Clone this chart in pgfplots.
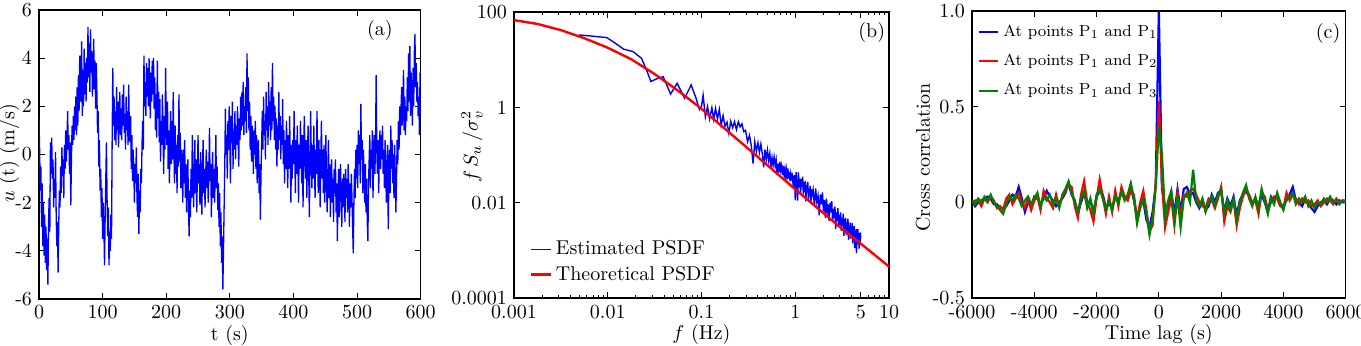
\documentclass[border=0pt]{standalone}
\usepackage{pgfplots}
\pgfplotsset{compat=1.18}
\definecolor{mblue}{rgb}{0,0,1}
\definecolor{mred}{rgb}{1,0,0}
\definecolor{mgreen}{rgb}{0,0.5,0}
\pgfplotsset{
  panel/.style={
    scale only axis, anchor=south west,
    axis line style={line width=0.8pt},
    tick align=inside, major tick length=3pt, minor tick length=1.6pt,
    every tick/.style={black, line width=0.5pt},
    every axis x label/.style={at={(rel axis cs:0.5,0)}, yshift=-18pt, anchor=center},
    tick label style={font=\normalsize},
  }
}
\begin{document}
\begin{tikzpicture}
% ---------------- (a) wind speed time history ----------------
\begin{axis}[panel, at={(19.5pt,23pt)}, width=190.85pt, height=144.5pt,
  xmin=0, xmax=600, ymin=-6, ymax=6,
  xtick={0,100,200,300,400,500,600},
  ytick={-6,-4,-2,0,2,4,6}, yticklabels={-6,-4,-2,0,2,4,6},
  xlabel={t (s)}, ylabel={$u$ (t) (m/s)},
  every axis y label/.style={at={(rel axis cs:0,0.505)}, xshift=-14.8pt, rotate=90, anchor=center}]
\addplot[mblue, line width=0.65pt] coordinates {
(0,1.5)(1,0.2)(2,-1.5)(3,-0.5)(4,-3.0)(5,-1.2)(6,-3.8)(7,-2.0)(8,-4.2)(9,-2.5)
(10,-4.5)(11,-3.0)(12,-4.8)(13,-3.5)(14,-5.4)(15,-2.8)(16,-1.8)(17,-3.2)(18,0.5)(19,-0.8)
(20,0.7)(21,-1.0)(22,-0.2)(23,-2.2)(24,-1.0)(25,-1.8)(26,0.1)(27,-2.5)(28,-3.8)(29,-2.8)
(30,-4.9)(31,-3.0)(32,-1.5)(33,-2.2)(34,-0.5)(35,-1.6)(36,0.3)(37,-0.9)(38,-0.2)(39,-1.8)
(40,0.4)(41,-0.6)(42,1.0)(43,-0.3)(44,0.6)(45,1.8)(46,0.2)(47,0.8)(48,-0.8)(49,0.5)
(50,-2.1)(51,-0.2)(52,1.2)(53,0.4)(54,1.6)(55,0.6)(56,2.0)(57,1.0)(58,2.4)(59,0.8)
(60,2.8)(61,1.2)(62,3.3)(63,1.8)(64,4.1)(65,2.2)(66,3.0)(67,4.7)(68,1.6)(69,3.5)
(70,2.0)(71,4.4)(72,2.5)(73,3.8)(74,2.2)(75,4.0)(76,3.0)(77,5.3)(78,3.2)(79,4.6)
(80,2.6)(81,5.2)(82,3.4)(83,4.3)(84,2.4)(85,3.6)(86,4.8)(87,2.7)(88,3.9)(89,1.9)
(90,3.8)(91,2.6)(92,0.9)(93,1.8)(94,-0.5)(95,0.6)(96,-1.5)(97,-0.6)(98,-2.6)(99,-1.4)
(100,-3.5)(101,-2.0)(102,-3.0)(103,-4.6)(104,-2.6)(105,-1.0)(106,0.5)(107,-1.8)(108,-3.4)(109,-2.2)
(110,-4.6)(111,-3.2)(112,-4.0)(113,-2.5)(114,-3.5)(115,0.6)(116,3.6)(117,1.2)(118,2.4)(119,0.6)
(120,1.8)(121,0.4)(122,2.8)(123,1.0)(124,2.2)(125,0.3)(126,1.6)(127,2.6)(128,0.8)(129,1.9)
(130,0.6)(131,2.5)(132,1.2)(133,2.9)(134,0.9)(135,1.7)(136,0.2)(137,2.4)(138,1.0)(139,1.8)
(140,0.4)(141,2.9)(142,1.1)(143,0.5)(144,1.6)(145,-0.6)(146,0.8)(147,-1.1)(148,0.2)(149,-0.5)
(150,-2.0)(151,-0.4)(152,-1.2)(153,0.3)(154,-1.8)(155,-2.6)(156,-0.8)(157,-3.3)(158,-1.5)(159,-2.4)
(160,-0.6)(161,-1.2)(162,0.5)(163,1.4)(164,0.2)(165,4.1)(166,2.0)(167,3.0)(168,1.6)(169,3.8)
(170,2.4)(171,3.6)(172,2.0)(173,4.0)(174,2.8)(175,1.5)(176,3.4)(177,2.2)(178,3.9)(179,2.5)
(180,4.0)(181,1.9)(182,3.2)(183,1.0)(184,2.5)(185,0.7)(186,3.9)(187,1.5)(188,2.6)(189,0.5)
(190,2.3)(191,-0.3)(192,1.4)(193,0.4)(194,2.5)(195,0.8)(196,-0.8)(197,1.6)(198,0.2)(199,3.6)
(200,1.2)(201,0.4)(202,2.2)(203,-0.6)(204,1.0)(205,-1.2)(206,0.6)(207,1.8)(208,-0.4)(209,1.4)
(210,-0.2)(211,2.6)(212,0.3)(213,-1.2)(214,1.2)(215,-0.8)(216,0.4)(217,-1.6)(218,0.8)(219,-0.5)
(220,2.5)(221,-0.3)(222,0.9)(223,-1.4)(224,0.2)(225,-0.8)(226,-2.0)(227,0.2)(228,-1.2)(229,0.6)
(230,-1.8)(231,-0.4)(232,-2.4)(233,-1.0)(234,-0.2)(235,-2.2)(236,-3.4)(237,-1.5)(238,-2.6)(239,-0.6)
(240,-1.8)(241,0.8)(242,-0.6)(243,-2.2)(244,-0.9)(245,0.6)(246,-1.6)(247,-0.2)(248,-2.4)(249,-0.8)
(250,0.8)(251,-1.2)(252,-0.4)(253,-2.1)(254,0.1)(255,-1.0)(256,-2.5)(257,-0.5)(258,0.6)(259,-1.6)
(260,-0.6)(261,-2.2)(262,-0.9)(263,0.2)(264,-1.4)(265,-0.3)(266,-2.0)(267,-0.8)(268,1.1)(269,-1.1)
(270,-0.4)(271,-2.6)(272,-1.0)(273,0.1)(274,-1.8)(275,-0.6)(276,-2.0)(277,-0.9)(278,0.8)(279,-1.4)
(280,-0.5)(281,-2.3)(282,-1.2)(283,-3.0)(284,-1.6)(285,-3.8)(286,-2.4)(287,-4.5)(288,-3.4)(289,-5.6)
(290,-4.0)(291,-2.2)(292,-0.5)(293,1.9)(294,0.0)(295,0.8)(296,-1.0)(297,1.4)(298,0.2)(299,2.0)
(300,0.4)(301,-1.2)(302,1.6)(303,0.5)(304,2.2)(305,-0.6)(306,1.0)(307,0.2)(308,1.8)(309,-0.2)
(310,1.2)(311,0.4)(312,2.0)(313,0.8)(314,-0.5)(315,1.5)(316,0.6)(317,2.4)(318,1.0)(319,2.6)
(320,1.2)(321,3.0)(322,0.8)(323,2.0)(324,1.4)(325,2.8)(326,0.9)(327,4.2)(328,1.8)(329,3.2)
(330,1.0)(331,2.2)(332,0.2)(333,1.6)(334,-0.3)(335,1.2)(336,0.6)(337,-0.8)(338,1.0)(339,0.0)
(340,1.4)(341,-0.6)(342,0.8)(343,-1.2)(344,-0.2)(345,0.6)(346,-1.6)(347,-0.4)(348,-2.7)(349,-0.8)
(350,0.4)(351,1.8)(352,0.2)(353,2.4)(354,0.8)(355,1.4)(356,-0.2)(357,2.6)(358,1.0)(359,2.0)
(360,0.4)(361,3.0)(362,1.2)(363,2.2)(364,0.6)(365,2.8)(366,1.0)(367,3.8)(368,1.4)(369,2.4)
(370,0.6)(371,2.0)(372,0.2)(373,1.5)(374,-0.5)(375,1.2)(376,0.2)(377,2.6)(378,0.6)(379,1.6)
(380,-0.2)(381,1.2)(382,0.4)(383,2.3)(384,-0.4)(385,1.0)(386,-1.2)(387,0.6)(388,-0.6)(389,1.4)
(390,0.0)(391,-1.4)(392,0.8)(393,-0.6)(394,1.6)(395,-0.2)(396,-2.0)(397,0.4)(398,-1.0)(399,0.6)
(400,-0.4)(401,1.8)(402,0.2)(403,-1.6)(404,0.6)(405,-0.8)(406,1.2)(407,-0.2)(408,-2.0)(409,0.4)
(410,-0.6)(411,1.4)(412,0.0)(413,-1.2)(414,0.8)(415,-2.2)(416,-0.4)(417,1.6)(418,0.2)(419,-1.0)
(420,0.6)(421,-1.8)(422,-0.2)(423,1.2)(424,-0.8)(425,-2.6)(426,-0.4)(427,1.8)(428,0.0)(429,-1.4)
(430,0.4)(431,-1.0)(432,1.2)(433,-0.6)(434,-1.8)(435,0.2)(436,-0.8)(437,1.8)(438,-0.2)(439,-1.6)
(440,0.6)(441,-0.6)(442,-2.2)(443,0.0)(444,1.4)(445,-1.0)(446,0.2)(447,-1.6)(448,0.4)(449,-2.0)
(450,-0.6)(451,0.8)(452,-1.4)(453,-2.4)(454,-0.8)(455,0.6)(456,-1.8)(457,-0.4)(458,-2.6)(459,-1.0)
(460,-0.2)(461,-2.0)(462,-1.0)(463,-2.8)(464,-0.6)(465,-1.6)(466,-0.2)(467,-2.4)(468,-1.2)(469,-3.6)
(470,-1.8)(471,-0.6)(472,-2.6)(473,-1.4)(474,-0.4)(475,-2.0)(476,-3.0)(477,-1.0)(478,-2.2)(479,-0.8)
(480,-1.6)(481,-2.8)(482,-0.6)(483,-1.8)(484,-1.0)(485,-2.4)(486,-0.4)(487,-1.4)(488,-3.0)(489,-1.2)
(490,-2.2)(491,-0.8)(492,-1.8)(493,-3.0)(494,-4.1)(495,-2.0)(496,-0.6)(497,-1.8)(498,0.2)(499,-1.0)
(500,0.4)(501,-1.4)(502,1.0)(503,-0.4)(504,0.8)(505,-1.2)(506,2.1)(507,-0.2)(508,0.6)(509,-1.6)
(510,0.2)(511,-0.8)(512,-2.0)(513,-0.4)(514,-2.4)(515,-1.0)(516,-2.8)(517,-3.6)(518,-1.2)(519,-0.2)
(520,0.8)(521,-1.4)(522,0.2)(523,-0.6)(524,1.0)(525,-1.8)(526,-0.4)(527,0.8)(528,-0.8)(529,0.4)
(530,3.3)(531,0.2)(532,-0.8)(533,0.6)(534,-1.6)(535,0.2)(536,1.0)(537,-0.6)(538,0.8)(539,-0.2)
(540,1.2)(541,-0.8)(542,0.2)(543,-1.4)(544,0.6)(545,-0.4)(546,-2.0)(547,-0.8)(548,0.4)(549,-3.1)
(550,-1.0)(551,0.2)(552,-1.6)(553,1.2)(554,-0.6)(555,0.6)(556,-1.2)(557,0.0)(558,-1.8)(559,0.4)
(560,-0.8)(561,-2.4)(562,-1.0)(563,0.6)(564,-0.4)(565,1.4)(566,0.2)(567,2.0)(568,0.8)(569,1.8)
(570,2.8)(571,1.2)(572,2.2)(573,3.5)(574,1.0)(575,2.4)(576,0.8)(577,2.0)(578,1.4)(579,3.2)
(580,1.8)(581,4.2)(582,2.2)(583,4.5)(584,1.6)(585,3.4)(586,2.4)(587,1.2)(588,3.6)(589,2.0)
(590,4.2)(591,5.0)(592,2.8)(593,3.8)(594,2.2)(595,3.0)(596,1.6)(597,2.4)(598,0.8)(599,3.4)
(600,1.6)
};
\node at (rel axis cs:0.893,0.93) {(a)};
\end{axis}
% ---------------- (b) normalised power spectral density ----------------
\begin{axis}[panel, at={(257pt,23.5pt)}, width=187.5pt, height=143pt,
  xmode=log, ymode=log,
  xmin=0.001, xmax=10, ymin=0.0001, ymax=100,
  xtick={0.001,0.01,0.1,1,5,10}, xticklabels={0.001,0.01,0.1,1,5,10},
  minor xtick={0.002,0.003,0.004,0.005,0.006,0.007,0.008,0.009,
    0.02,0.03,0.04,0.05,0.06,0.07,0.08,0.09,
    0.2,0.3,0.4,0.5,0.6,0.7,0.8,0.9,2,3,4,6,7,8,9},
  ytick={0.0001,0.01,1,100}, yticklabels={0.0001,0.01,1,100},
  xlabel={$f$ (Hz)}, ylabel={$f\,S_u\,/\sigma_v^2$},
  every axis y label/.style={at={(rel axis cs:0,0.53)}, xshift=-21pt, rotate=90, anchor=center},
  legend style={draw=none, fill=none, at={(rel axis cs:0.035,0.03)}, anchor=south west,
    font=\normalsize, inner sep=1pt, row sep=0pt},
  legend cell align=left,
  legend image code/.code={\draw[#1] (0pt,0pt) -- (10pt,0pt);}]
\addplot[mblue, line width=0.7pt] coordinates {
(0.0049,33)(0.0065,31.5)(0.0098,29)(0.0125,21)(0.0148,16.6)(0.0186,14.8)(0.0229,10.7)
(0.026,6.0)(0.0288,3.5)(0.0347,4.1)(0.039,4.4)(0.0468,1.9)(0.055,3.2)(0.066,1.55)
(0.0776,2.95)(0.088,1.5)(0.095,0.9)
(0.100,1.05)(0.104,1.8)(0.110,0.63)(0.116,1.04)(0.122,0.57)(0.129,0.98)(0.135,0.56)
(0.141,0.95)(0.148,0.57)(0.155,0.90)(0.162,0.42)(0.170,0.67)(0.178,0.40)(0.187,0.49)
(0.196,0.285)(0.205,0.51)(0.215,0.375)(0.225,0.5)(0.236,0.34)(0.247,0.5)(0.258,0.39)
(0.270,0.45)(0.282,0.31)(0.295,0.33)(0.31,0.19)(0.325,0.26)(0.34,0.153)(0.355,0.066)
(0.37,0.19)(0.385,0.118)(0.40,0.18)(0.415,0.113)(0.43,0.17)(0.445,0.108)(0.46,0.055)
(0.475,0.13)(0.49,0.079)(0.505,0.126)(0.52,0.077)(0.535,0.108)(0.55,0.0545)(0.565,0.088)
(0.58,0.06)(0.595,0.091)(0.61,0.06)(0.625,0.079)(0.64,0.038)(0.655,0.066)(0.67,0.043)
(0.685,0.072)(0.70,0.048)(0.715,0.06)(0.73,0.038)(0.745,0.059)(0.76,0.0385)(0.775,0.05)
(0.79,0.03)(0.805,0.049)(0.82,0.037)(0.835,0.052)(0.85,0.032)(0.865,0.044)(0.88,0.028)
(0.895,0.039)(0.91,0.029)(0.925,0.042)(0.94,0.029)(0.955,0.037)(0.97,0.0215)(0.985,0.038)
(1.0,0.0112)(1.02,0.0435)(1.04,0.025)(1.06,0.011)(1.08,0.043)(1.10,0.021)(1.12,0.032)
(1.14,0.015)(1.16,0.032)(1.18,0.0217)(1.20,0.035)(1.22,0.0147)(1.24,0.027)(1.26,0.0168)
(1.28,0.0286)(1.30,0.0106)(1.32,0.0234)(1.34,0.0165)(1.36,0.0273)(1.38,0.0121)(1.40,0.02)
(1.42,0.0138)(1.44,0.0224)(1.46,0.0099)(1.48,0.0193)(1.50,0.0137)
(1.55,0.0189)(1.60,0.0085)(1.65,0.0198)(1.70,0.0103)(1.75,0.0139)(1.80,0.00545)
(1.85,0.0149)(1.90,0.00926)(1.95,0.0164)(2.00,0.00655)(2.05,0.0113)(2.10,0.00483)
(2.15,0.0122)(2.20,0.00672)(2.25,0.00918)(2.30,0.00416)(2.35,0.0100)(2.40,0.0063)
(2.45,0.0108)(2.50,0.00409)(2.55,0.00748)(2.60,0.00469)(2.65,0.00826)(2.70,0.0028)
(2.75,0.00621)(2.80,0.00415)(2.85,0.00769)(2.90,0.0032)(2.95,0.00554)(3.00,0.00337)
(3.05,0.00623)(3.10,0.00255)(3.15,0.00465)(3.20,0.00333)(3.25,0.0059)(3.30,0.00202)
(3.35,0.0045)(3.40,0.00274)(3.45,0.00482)(3.50,0.00209)(3.55,0.00383)(3.60,0.0025)
(3.65,0.00464)(3.70,0.00167)(3.75,0.00328)(3.80,0.00206)(3.85,0.00381)(3.90,0.00176)
(3.95,0.00323)(4.00,0.0021)(4.05,0.00371)(4.10,0.00141)(4.15,0.00277)(4.20,0.00175)
(4.25,0.00323)(4.30,0.00112)(4.35,0.00256)(4.40,0.00162)(4.45,0.00283)(4.50,0.00087)
(4.55,0.00221)(4.60,0.00134)(4.65,0.00279)(4.70,0.00145)(4.75,0.00223)(4.80,0.00109)
(4.85,0.0023)(4.90,0.00136)(4.95,0.00237)(5.00,0.00175)
};
\addlegendentry{Estimated PSDF}
\addplot[mred, line width=1.2pt] coordinates {
(0.001,67.6)(0.00178,56.2)(0.00316,41.7)(0.00562,28.2)(0.01,17.8)(0.0178,10.2)
(0.0316,5.01)(0.0562,2.24)(0.1,0.933)(0.316,0.135)(1,0.0191)(3.16,0.00282)
(5,0.00138)(10,0.000457)
};
\addlegendentry{Theoretical PSDF}
\node at (rel axis cs:0.954,0.93) {(b)};
\end{axis}
% ---------------- (c) cross correlation ----------------
\begin{axis}[panel, at={(486pt,23.5pt)}, width=186.85pt, height=143.5pt,
  xmin=-6000, xmax=6000, ymin=-0.5, ymax=1.0,
  xtick={-6000,-4000,-2000,0,2000,4000,6000},
  xticklabels={-6000,-4000,-2000,0,2000,4000,6000},
  ytick={-0.5,0,0.5,1.0}, yticklabels={-0.5,0,0.5,1.0},
  xlabel={Time lag (s)}, ylabel={Cross correlation},
  every axis y label/.style={at={(rel axis cs:0,0.49)}, xshift=-24.5pt, rotate=90, anchor=center},
  legend style={draw=none, fill=none, at={(rel axis cs:0.01,0.975)}, anchor=north west,
    font=\footnotesize, inner sep=1pt, row sep=3.5pt},
  legend cell align=left,
  legend image code/.code={\draw[#1] (0pt,0pt) -- (9.5pt,0pt);}]
\addplot[mblue, line width=1.1pt] coordinates {
(-6000,0.01)(-5900,-0.02)(-5800,0.00)(-5700,0.01)(-5600,0.02)(-5500,0.03)(-5400,0.02)(-5300,-0.01)
(-5200,-0.01)(-5100,-0.03)(-5000,-0.03)(-4900,-0.02)(-4800,0.01)(-4700,0.04)(-4600,0.03)(-4500,0.08)
(-4400,0.02)(-4300,-0.05)(-4200,0.00)(-4100,-0.02)(-4000,0.03)(-3900,0.02)(-3800,-0.01)(-3700,0.02)
(-3600,0.06)(-3500,0.03)(-3400,0.01)(-3300,-0.02)(-3200,0.00)(-3100,0.02)(-3000,0.05)(-2900,0.10)
(-2800,0.04)(-2700,0.01)(-2600,-0.06)(-2500,0.00)(-2400,0.05)(-2300,-0.01)(-2200,0.01)(-2100,-0.05)
(-2000,0.03)(-1900,0.06)(-1800,0.04)(-1700,-0.03)(-1600,-0.01)(-1500,-0.02)(-1400,0.02)(-1300,0.01)
(-1200,0.05)(-1100,0.02)(-1000,0.03)(-900,0.08)(-800,0.01)(-700,-0.08)(-600,-0.02)(-500,0.01)
(-400,-0.09)(-300,-0.13)(-200,-0.05)(-100,0.09)(0,1.00)(100,0.07)(200,-0.02)(300,-0.03)
(400,0.05)(500,-0.06)(600,0.07)(700,-0.05)(800,0.07)(900,0.08)(1000,0.04)(1100,0.05)
(1200,0.00)(1300,-0.03)(1400,0.01)(1500,-0.04)(1600,-0.02)(1700,0.04)(1800,0.00)(1900,0.05)
(2000,0.06)(2100,-0.05)(2200,0.02)(2300,-0.02)(2400,0.03)(2500,-0.07)(2600,0.01)(2700,0.04)
(2800,0.06)(2900,0.03)(3000,-0.01)(3100,0.02)(3200,-0.02)(3300,0.04)(3400,0.00)(3500,-0.05)
(3600,0.03)(3700,0.01)(3800,0.04)(3900,-0.01)(4000,-0.02)(4100,0.01)(4200,0.04)(4300,0.08)
(4400,0.01)(4500,0.00)(4600,-0.02)(4700,0.02)(4800,-0.01)(4900,-0.03)(5000,-0.05)(5100,-0.02)
(5200,0.00)(5300,0.01)(5400,-0.01)(5500,0.02)(5600,0.01)(5700,-0.01)(5800,0.01)(5900,0.00)
(6000,0.00)
};
\addlegendentry{At points P$_1$ and P$_1$}
\addplot[mred, line width=1.1pt] coordinates {
(-6000,0.00)(-5900,0.01)(-5800,0.01)(-5700,-0.02)(-5600,0.02)(-5500,0.00)(-5400,0.03)(-5300,0.01)
(-5200,-0.03)(-5100,-0.02)(-5000,-0.04)(-4900,0.02)(-4800,0.04)(-4700,-0.01)(-4600,0.02)(-4500,0.05)
(-4400,0.00)(-4300,-0.03)(-4200,0.02)(-4100,-0.04)(-4000,0.01)(-3900,0.03)(-3800,-0.04)(-3700,0.06)
(-3600,0.02)(-3500,0.00)(-3400,-0.03)(-3300,0.04)(-3200,-0.02)(-3100,0.03)(-3000,0.06)(-2900,0.09)
(-2800,0.08)(-2700,-0.02)(-2600,-0.08)(-2500,0.04)(-2400,0.11)(-2300,0.00)(-2200,-0.04)(-2100,-0.10)
(-2000,0.02)(-1900,0.12)(-1800,0.03)(-1700,-0.06)(-1600,0.03)(-1500,-0.05)(-1400,0.06)(-1300,-0.02)
(-1200,0.08)(-1100,0.03)(-1000,0.01)(-900,0.06)(-800,0.04)(-700,-0.09)(-600,0.00)(-500,0.06)
(-400,-0.04)(-300,-0.15)(-200,-0.12)(-100,0.10)(0,0.53)(100,0.10)(200,-0.13)(300,-0.05)
(400,0.02)(500,-0.12)(600,0.05)(700,-0.08)(800,0.04)(900,0.03)(1000,0.06)(1100,0.07)
(1200,0.04)(1300,0.00)(1400,-0.02)(1500,-0.03)(1600,0.02)(1700,0.01)(1800,-0.03)(1900,0.02)
(2000,0.08)(2100,-0.10)(2200,-0.02)(2300,-0.05)(2400,0.01)(2500,-0.12)(2600,-0.03)(2700,0.03)
(2800,0.07)(2900,0.04)(3000,0.00)(3100,0.01)(3200,-0.06)(3300,0.05)(3400,0.03)(3500,-0.04)
(3600,0.00)(3700,0.03)(3800,0.02)(3900,-0.02)(4000,-0.03)(4100,0.05)(4200,0.01)(4300,0.04)
(4400,0.02)(4500,-0.01)(4600,0.02)(4700,0.00)(4800,0.01)(4900,-0.02)(5000,-0.01)(5100,0.01)
(5200,-0.02)(5300,0.00)(5400,0.02)(5500,0.01)(5600,-0.01)(5700,0.02)(5800,0.00)(5900,0.01)
(6000,0.01)
};
\addlegendentry{At points P$_1$ and P$_2$}
\addplot[mgreen, line width=1.1pt] coordinates {
(-6000,0.01)(-5900,-0.01)(-5800,0.02)(-5700,0.00)(-5600,0.03)(-5500,0.01)(-5400,0.04)(-5300,0.00)
(-5200,-0.02)(-5100,-0.04)(-5000,-0.06)(-4900,-0.01)(-4800,0.03)(-4700,0.01)(-4600,0.04)(-4500,0.02)
(-4400,-0.02)(-4300,0.01)(-4200,0.03)(-4100,-0.01)(-4000,0.02)(-3900,0.05)(-3800,-0.02)(-3700,0.03)
(-3600,0.01)(-3500,0.04)(-3400,-0.01)(-3300,0.02)(-3200,-0.03)(-3100,0.04)(-3000,0.07)(-2900,0.11)
(-2800,0.05)(-2700,0.00)(-2600,-0.05)(-2500,0.02)(-2400,0.06)(-2300,-0.03)(-2200,0.02)(-2100,-0.06)
(-2000,0.04)(-1900,0.07)(-1800,0.02)(-1700,-0.04)(-1600,0.01)(-1500,-0.04)(-1400,0.03)(-1300,0.00)
(-1200,0.06)(-1100,0.01)(-1000,0.04)(-900,0.10)(-800,0.02)(-700,-0.11)(-600,-0.03)(-500,0.02)
(-400,-0.06)(-300,-0.17)(-200,-0.08)(-100,0.08)(0,0.40)(100,0.25)(200,-0.08)(300,0.01)
(400,0.06)(500,-0.10)(600,0.03)(700,-0.13)(800,0.02)(900,0.05)(1000,0.00)(1100,0.17)
(1200,0.01)(1300,-0.02)(1400,0.02)(1500,-0.05)(1600,0.00)(1700,0.03)(1800,-0.02)(1900,0.04)
(2000,0.07)(2100,-0.06)(2200,0.01)(2300,-0.04)(2400,0.02)(2500,-0.09)(2600,0.00)(2700,0.05)
(2800,0.09)(2900,0.02)(3000,-0.02)(3100,0.03)(3200,-0.03)(3300,0.07)(3400,0.01)(3500,-0.06)
(3600,0.02)(3700,-0.01)(3800,0.05)(3900,0.00)(4000,-0.04)(4100,0.02)(4200,0.03)(4300,0.05)
(4400,-0.01)(4500,0.02)(4600,0.00)(4700,0.03)(4800,-0.02)(4900,0.01)(5000,-0.03)(5100,0.00)
(5200,-0.01)(5300,0.02)(5400,0.00)(5500,0.03)(5600,0.00)(5700,0.01)(5800,-0.01)(5900,0.01)
(6000,0.00)
};
\addlegendentry{At points P$_1$ and P$_3$}
\node at (rel axis cs:0.953,0.923) {(c)};
\end{axis}
\pgfresetboundingbox
\useasboundingbox (0,0) rectangle (680.5pt,172.5pt);
\end{tikzpicture}
\end{document}
